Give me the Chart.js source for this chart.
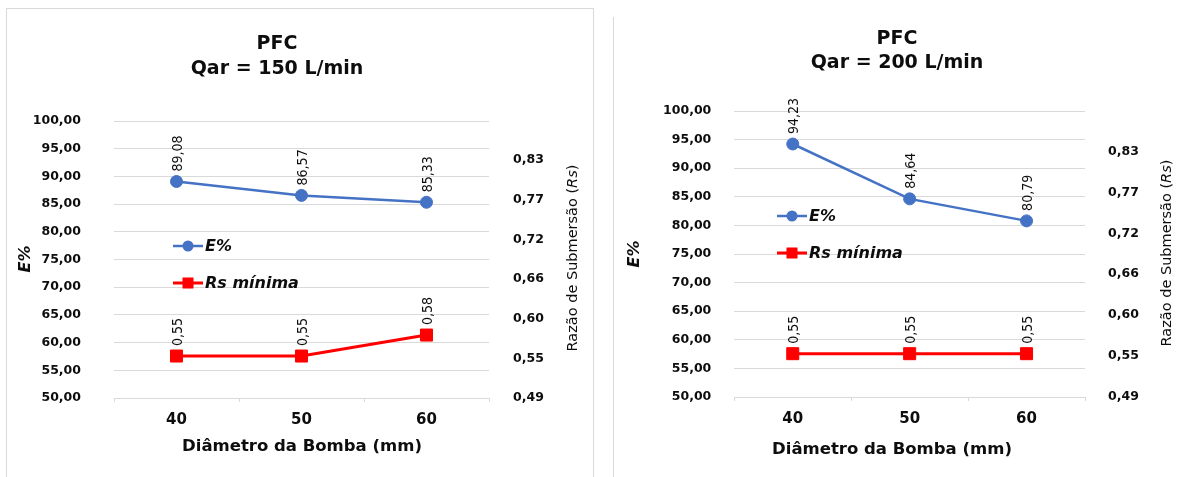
<!DOCTYPE html>
<html>
<head>
<meta charset="utf-8">
<script src="https://cdn.jsdelivr.net/npm/chart.js@4.4.1/dist/chart.umd.min.js"></script>
<style>
  html, body { margin: 0; padding: 0; background: #fff; width: 1181px; height: 477px; overflow: hidden; position: relative; }
  .panel { position: absolute; box-sizing: border-box; }
  #p1 { left: 6px; top: 8px; width: 588px; height: 490px; border: 1px solid #d9d9d9; }
  #p2 { left: 613px; top: 17px; width: 600px; height: 480px; border-left: 1px solid #d9d9d9; }
  canvas { position: absolute; top: 0; }
  #c1 { left: 0; }
  #c2 { left: 600px; }
</style>
</head>
<body>
<div class="panel" id="p1"></div>
<div class="panel" id="p2"></div>
<canvas id="c1" width="600" height="477" style="width:600px;height:477px"></canvas>
<canvas id="c2" width="581" height="477" style="width:581px;height:477px"></canvas>
<script>
// Pump diameter categories (mm)
const diametros = ['40', '50', '60'];

// Qar = 150 L/min
const eficiencia150 = [89.08, 86.57, 85.33];
const rsMinima150 = [0.55, 0.55, 0.58];

// Qar = 200 L/min
const eficiencia200 = [94.23, 84.64, 80.79];
const rsMinima200 = [0.55, 0.55, 0.55];

// Axis ticks
const eTicks = [50, 55, 60, 65, 70, 75, 80, 85, 90, 95, 100];
const rsTicks = [0.49, 0.5467, 0.6033, 0.66, 0.7167, 0.7733, 0.83];
const rsAxisMin = 0.49;
const rsAxisMax = 0.886;

const FONT = '"DejaVu Sans", "Open Sans", sans-serif';
const LABEL_FONT = '"DejaVu Sans Condensed", "Liberation Sans Narrow", "DejaVu Sans", sans-serif';
const TEXT = '#0d0d0d';
const GRID = '#d9d9d9';
const BLUE = '#4472C4';
const RED = '#FF0000';

const fmt = v => Number(v).toFixed(2).replace('.', ',');

// Titles, axis titles, in-plot legend and rotated value labels
const overlayText = {
  id: 'overlayText',
  afterDatasetsDraw(chart) {
    const ctx = chart.ctx;
    ctx.save();
    ctx.fillStyle = TEXT;
    ctx.font = `14px ${LABEL_FONT}`;
    ctx.textAlign = 'left';
    ctx.textBaseline = 'middle';
    chart.data.datasets.forEach((ds, i) => {
      chart.getDatasetMeta(i).data.forEach((pt, j) => {
        ctx.save();
        ctx.translate(pt.x + 2, pt.y - 10);
        ctx.rotate(-Math.PI / 2);
        ctx.fillText(fmt(ds.data[j]), 0, 0);
        ctx.restore();
      });
    });
    ctx.restore();
  },
  afterDraw(chart, args, o) {
    const ctx = chart.ctx;
    ctx.save();
    ctx.fillStyle = TEXT;
    ctx.textBaseline = 'middle';

    // chart title (two lines)
    ctx.textAlign = 'center';
    ctx.font = `bold 19px ${FONT}`;
    ctx.fillText(o.titleLines[0], o.title.x, o.title.y1);
    ctx.fillText(o.titleLines[1], o.title.x, o.title.y2);

    // x axis title
    ctx.font = `bold 16.5px ${FONT}`;
    ctx.fillText(o.xTitleText, o.xTitle.x, o.xTitle.y);

    // left axis title
    ctx.save();
    ctx.translate(o.yTitle.x, o.yTitle.y);
    ctx.rotate(-Math.PI / 2);
    ctx.font = `italic bold 16px ${FONT}`;
    ctx.fillText(o.yTitleText, 0, 0);
    ctx.restore();

    // right axis title with italic symbol
    ctx.save();
    ctx.translate(o.y1Title.x, o.y1Title.y);
    ctx.rotate(-Math.PI / 2);
    const parts = [
      { t: 'Razão de Submersão (', f: `14.5px ${FONT}` },
      { t: 'Rs', f: `italic 14.5px ${FONT}` },
      { t: ')', f: `14.5px ${FONT}` }
    ];
    let total = 0;
    parts.forEach(p => { ctx.font = p.f; p.w = ctx.measureText(p.t).width; total += p.w; });
    let x = -total / 2;
    ctx.textAlign = 'left';
    parts.forEach(p => { ctx.font = p.f; ctx.fillText(p.t, x, 0); x += p.w; });
    ctx.restore();

    // legend inside plot
    const lg = o.legend;
    chart.data.datasets.forEach((ds, i) => {
      const y = lg.y + i * lg.gap;
      ctx.strokeStyle = ds.borderColor;
      ctx.lineWidth = ds.borderWidth;
      ctx.beginPath();
      ctx.moveTo(lg.x, y);
      ctx.lineTo(lg.x + 30, y);
      ctx.stroke();
      ctx.fillStyle = ds.pointBackgroundColor;
      if (ds.pointStyle === 'rect') {
        ctx.fillRect(lg.x + 15 - 5.5, y - 5.5, 11, 11);
      } else {
        ctx.beginPath();
        ctx.arc(lg.x + 15, y, 5.5, 0, Math.PI * 2);
        ctx.fill();
      }
      ctx.fillStyle = TEXT;
      ctx.font = `italic bold 16px ${FONT}`;
      ctx.textAlign = 'left';
      ctx.fillText(ds.label, lg.x + 32, y + 1);
    });
    ctx.restore();
  }
};

function buildChart(id, eData, rsData, qar, pos) {
  return new Chart(document.getElementById(id), {
    type: 'line',
    data: {
      labels: diametros,
      datasets: [
        {
          label: 'E%', data: eData, yAxisID: 'y',
          borderColor: BLUE, backgroundColor: BLUE,
          pointBackgroundColor: BLUE, pointBorderColor: BLUE,
          pointStyle: 'circle', pointRadius: 6, pointBorderWidth: 1,
          borderWidth: 2.5, tension: 0
        },
        {
          label: 'Rs mínima', data: rsData, yAxisID: 'y1',
          borderColor: RED, backgroundColor: RED,
          pointBackgroundColor: RED, pointBorderColor: RED,
          pointStyle: 'rect', pointRadius: 8.5, pointBorderWidth: 1,
          borderWidth: 3, tension: 0
        }
      ]
    },
    options: {
      responsive: false,
      animation: false,
      events: [],
      layout: { padding: pos.padding },
      plugins: {
        legend: { display: false },
        tooltip: { enabled: false },
        title: { display: false },
        overlayText: {
          titleLines: ['PFC', `Qar = ${qar} L/min`],
          xTitleText: 'Diâmetro da Bomba (mm)',
          yTitleText: 'E%',
          title: pos.title,
          xTitle: pos.xTitle,
          yTitle: pos.yTitle,
          y1Title: pos.y1Title,
          legend: pos.legend
        }
      },
      scales: {
        x: {
          type: 'category',
          offset: true,
          grid: { display: true, drawOnChartArea: false, drawTicks: true, tickLength: 4, offset: true, color: GRID },
          border: { display: true, color: GRID, width: 1 },
          ticks: { font: { family: FONT, size: 15, weight: 'bold' }, color: TEXT, padding: pos.xPad, maxRotation: 0 },
          afterFit(s) { s.height = 40; }
        },
        y: {
          position: 'left',
          min: 50, max: 100,
          afterBuildTicks(s) { s.ticks = eTicks.map(v => ({ value: v })); },
          grid: { color: GRID, lineWidth: 1, drawTicks: false },
          border: { display: false },
          ticks: { font: { family: FONT, size: 12.5, weight: 'bold' }, color: TEXT, padding: pos.yPad, callback: v => fmt(v) },
          afterFit(s) { s.width = 100; }
        },
        y1: {
          position: 'right',
          min: rsAxisMin, max: rsAxisMax,
          afterBuildTicks(s) { s.ticks = rsTicks.map(v => ({ value: v })); },
          grid: { display: false, drawTicks: false },
          border: { display: false },
          ticks: { font: { family: FONT, size: 12.5, weight: 'bold' }, color: TEXT, padding: pos.y1Pad, callback: v => fmt(v) },
          afterFit(s) { s.width = 60; }
        }
      }
    },
    plugins: [overlayText]
  });
}

buildChart('c1', eficiencia150, rsMinima150, 150, {
  padding: { left: 14, right: 51, top: 121, bottom: 39 },
  xPad: 9, yPad: 33, y1Pad: 24,
  title: { x: 277, y1: 44, y2: 69 },
  xTitle: { x: 302, y: 447 },
  yTitle: { x: 26, y: 259 },
  y1Title: { x: 573, y: 258 },
  legend: { x: 173, y: 246, gap: 37 }
});

buildChart('c2', eficiencia200, rsMinima200, 200, {
  padding: { left: 34.3, right: 36, top: 111, bottom: 40 },
  xPad: 9, yPad: 23, y1Pad: 23,
  title: { x: 297, y1: 39, y2: 63 },
  xTitle: { x: 292, y: 450 },
  yTitle: { x: 35, y: 254 },
  y1Title: { x: 567, y: 253 },
  legend: { x: 177, y: 216, gap: 37 }
});
</script>
</body>
</html>
